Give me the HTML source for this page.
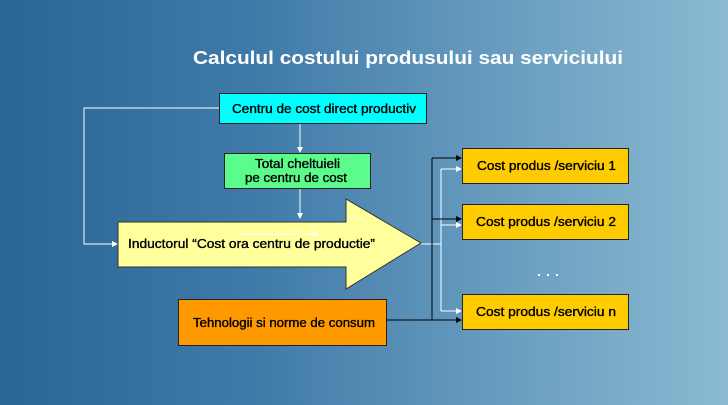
<!DOCTYPE html><html><head><style>
body{margin:0;width:728px;height:405px;overflow:hidden;background:linear-gradient(90deg,#2a6596 0%,#3f7aa8 35%,#6a9ec0 70%,#8bbad2 100%);font-family:"Liberation Sans",sans-serif;}
svg{position:absolute;left:0;top:0}
text{font-family:"Liberation Sans",sans-serif;font-size:12.5px;fill:#000;stroke:#000;stroke-width:0.35}
</style></head><body>
<svg width="728" height="405" viewBox="0 0 728 405">
<defs>
<marker id="w" markerWidth="6" markerHeight="6" refX="5" refY="3" orient="auto"><path d="M0,0L6,3L0,6z" fill="#fff"/></marker>
<marker id="b" markerWidth="6" markerHeight="6" refX="5" refY="3" orient="auto"><path d="M0,0L6,3L0,6z" fill="#000"/></marker>
</defs>
<text x="193" y="64" textLength="430" lengthAdjust="spacingAndGlyphs" style="font-size:18px;font-weight:bold;fill:#fff;stroke:none">Calculul costului produsului sau serviciului</text>
<g stroke="#fff" stroke-width="1" fill="none">
<polyline points="219,108 84,108 84,244 117,244" marker-end="url(#w)"/>
<line x1="300" y1="123" x2="300" y2="152" marker-end="url(#w)"/>
<line x1="300" y1="188" x2="300" y2="218" marker-end="url(#w)"/>
<line x1="421" y1="244" x2="441" y2="244"/>
<line x1="441" y1="169" x2="441" y2="311"/>
<line x1="441" y1="169" x2="461" y2="169" marker-end="url(#w)"/>
<line x1="441" y1="225" x2="461" y2="225" marker-end="url(#w)"/>
<line x1="441" y1="311" x2="461" y2="311" marker-end="url(#w)"/>
</g>
<rect x="219.5" y="93.5" width="207" height="30" fill="#00ffff" stroke="#222"/>
<text x="232" y="113" textLength="184" lengthAdjust="spacingAndGlyphs">Centru de cost direct productiv</text>
<rect x="224.5" y="153.5" width="146" height="35" fill="#5cfc8c" stroke="#222"/>
<text x="255" y="168" textLength="85" lengthAdjust="spacingAndGlyphs">Total cheltuieli</text>
<text x="245" y="182" textLength="102" lengthAdjust="spacingAndGlyphs">pe centru de cost</text>
<polygon points="118,222 346,222 346,199 421,243 346,289 346,267 118,267" fill="#ffff9c" stroke="#333"/>
<line x1="235" y1="234" x2="318" y2="234" stroke="#fff" marker-end="url(#w)"/>
<text x="128" y="248" textLength="247" lengthAdjust="spacingAndGlyphs">Inductorul “Cost ora centru de productie”</text>
<rect x="178.5" y="299.5" width="208" height="46" fill="#ff9900" stroke="#222"/>
<text x="193" y="327" textLength="182" lengthAdjust="spacingAndGlyphs">Tehnologii si norme de consum</text>
<g stroke="#000" fill="none">
<line x1="386" y1="320" x2="432" y2="320"/>
<line x1="432" y1="158" x2="432" y2="320"/>
<line x1="432" y1="158" x2="461" y2="158" marker-end="url(#b)"/>
<line x1="432" y1="219" x2="461" y2="219" marker-end="url(#b)"/>
<line x1="432" y1="320" x2="461" y2="320" marker-end="url(#b)"/>
</g>
<g fill="#ffcc00" stroke="#222">
<rect x="462.5" y="148.5" width="166" height="35"/>
<rect x="462.5" y="204.5" width="166" height="35"/>
<rect x="462.5" y="294.5" width="166" height="35"/>
</g>
<text x="477" y="170" textLength="139" lengthAdjust="spacingAndGlyphs">Cost produs /serviciu 1</text>
<text x="476" y="226" textLength="140" lengthAdjust="spacingAndGlyphs">Cost produs /serviciu 2</text>
<text x="476" y="316" textLength="140" lengthAdjust="spacingAndGlyphs">Cost produs /serviciu n</text>
<g fill="#fff"><rect x="538" y="274" width="2" height="2"/><rect x="547" y="274" width="2" height="2"/><rect x="556" y="274" width="2" height="2"/></g>
</svg>
</body></html>
